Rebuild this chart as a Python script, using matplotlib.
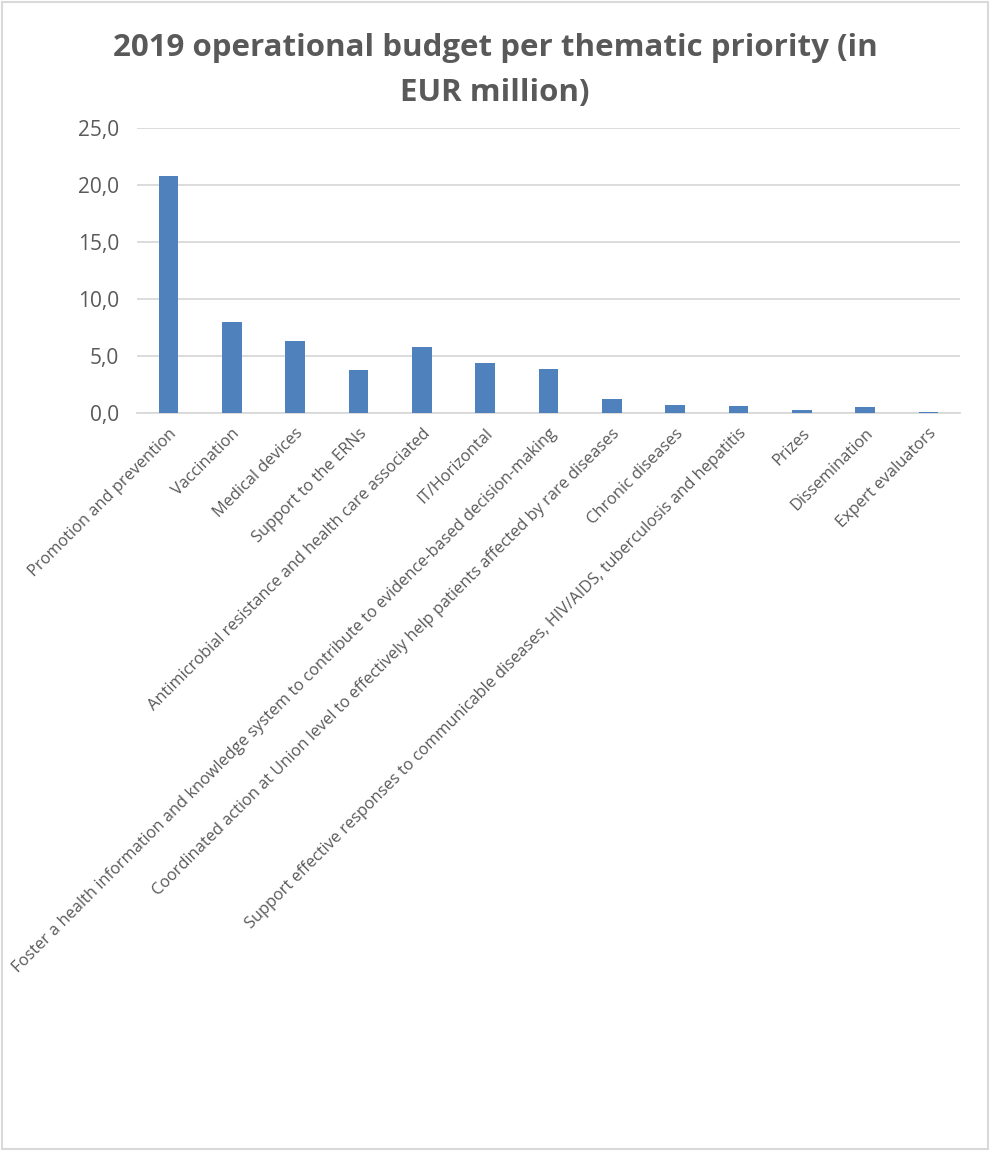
import matplotlib.pyplot as plt
from matplotlib.patches import Rectangle
from matplotlib.ticker import FuncFormatter

# data
categories = [
    'Promotion and prevention',
    'Vaccination',
    'Medical devices',
    'Support to the ERNs',
    'Antimicrobial resistance and health care associated',
    'IT/Horizontal',
    'Foster a health information and knowledge system to contribute to evidence-based decision-making',
    'Coordinated action at Union level to effectively help patients affected by rare diseases',
    'Chronic diseases',
    'Support effective responses to communicable diseases, HIV/AIDS, tuberculosis and hepatitis',
    'Prizes',
    'Dissemination',
    'Expert evaluators',
]
budget = [20.75, 8.0, 6.3, 3.75, 5.75, 4.4, 3.9, 1.25, 0.73, 0.6, 0.27, 0.56, 0.12]
yticks = [0, 5, 10, 15, 20, 25]

plt.rcParams['font.family'] = ['Open Sans', 'DejaVu Sans']
grey = '#595959'

fig = plt.figure(figsize=(9.9, 11.51), dpi=100)
# chart border
fig.patches.append(Rectangle((0.002, 0.002), 0.996, 0.996, transform=fig.transFigure,
                             fill=False, edgecolor='#D9D9D9', linewidth=1.5))

ax = fig.add_axes([137 / 990, 1 - 413 / 1151, 823 / 990, 285 / 1151])
x = range(len(categories))
ax.bar(x, budget, width=0.31, color='#4F81BD', zorder=3)

ax.set_xlim(-0.5, len(categories) - 0.5)
ax.set_ylim(0, 25)
ax.set_yticks(yticks)
ax.yaxis.set_major_formatter(FuncFormatter(lambda v, p: f'{v:.1f}'.replace('.', ',')))
ax.grid(axis='y', color='#D9D9D9', linewidth=1.3, zorder=0)
for s in ['top', 'right', 'left']:
    ax.spines[s].set_visible(False)
ax.spines['bottom'].set_color('#D9D9D9')
ax.spines['bottom'].set_linewidth(1.3)
ax.tick_params(axis='both', length=0, colors=grey)
ax.tick_params(axis='y', labelsize=15, pad=13)

ax.set_xticks(list(x))
ax.set_xticklabels(categories, rotation=45, ha='right', va='top',
                   rotation_mode='anchor', fontsize=11.8, color=grey)
ax.tick_params(axis='x', pad=9)

fig.text(0.5, 1 - 48 / 1151, '2019 operational budget per thematic priority (in',
         ha='center', va='center', fontsize=22.5, fontweight='bold', color=grey)
fig.text(0.5, 1 - 93 / 1151, 'EUR million)',
         ha='center', va='center', fontsize=22.5, fontweight='bold', color=grey)

fig.savefig('out.png', dpi=100)
